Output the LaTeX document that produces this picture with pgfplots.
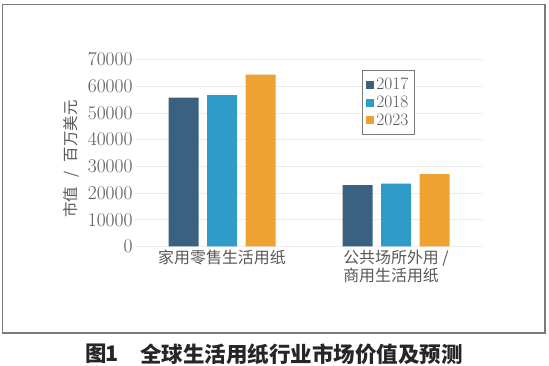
\documentclass[border=0pt]{standalone}
\usepackage{fontspec}
\usepackage{pgfplots}
\pgfplotsset{compat=1.18}
\newfontfamily\cjk{Noto Sans CJK SC}
\definecolor{c17}{HTML}{3A6280}
\definecolor{c18}{HTML}{2E9BC9}
\definecolor{c23}{HTML}{EEA232}
\definecolor{txt}{HTML}{585858}
\definecolor{frame}{HTML}{7A7A7A}
\begin{document}
\begin{tikzpicture}
\path[use as bounding box] (0,0) rectangle (549bp,366bp);
\fill[white] (0,0) rectangle (549bp,366bp);
\begin{scope}[x=1bp,y=-1bp,yshift=366bp]
\draw[color=frame, line width=1.3bp] (2.5,4.7) rectangle (545,333);
\node[font=\cjk\bfseries\fontsize{21.5}{24}\selectfont, anchor=west, inner sep=0pt, text=black!85] at (85,354) {图\kern-1pt 1};
\node[font=\cjk\bfseries\fontsize{21.6}{24}\selectfont, anchor=west, inner sep=0pt, text=black!85] at (140,354) {全球生活用纸行业市场价值及预测};
\end{scope}
\begin{axis}[
 at={(135bp,119.5bp)}, anchor=south west,
 scale only axis, width=348bp, height=187bp,
 xmin=-0.5, xmax=1.5, ymin=0, ymax=70000,
 ybar=8.5bp, bar width=30bp,
 xtick={0,1},
 xticklabels={家用零售生活用纸, {公共场所外用 /\\商用生活用纸}},
 xticklabel style={font=\cjk\fontsize{16}{17.7}\selectfont, text=txt, align=left, anchor=north},
 ytick={0,10000,...,70000},
 /pgf/number format/assume math mode=true,
 yticklabel style={font=\fontsize{19.5}{21}\selectfont, text=txt, xshift=1bp},
 /pgf/number format/1000 sep={},
 scaled y ticks=false,
 ymajorgrids, grid style={draw=gray!15, line width=0.8bp},
 axis line style={draw=none},
 major tick length=0pt,
 ylabel={市值\hspace{0.6em}/\hspace{0.6em}百万美元},
 ylabel style={font=\cjk\fontsize{15.5}{18}\selectfont, text=txt, at={(axis description cs:-0.184,0.468)}, anchor=center},
 legend style={at={(axis description cs:0.652,0.944)}, anchor=north west, draw=frame, line width=1bp, font=\fontsize{17.5}{18}\selectfont, text=txt, inner xsep=4bp, inner ysep=5.5bp, row sep=0.8bp},
 legend cell align=left,
 legend image code/.code={\fill[#1] (0bp,-4bp) rectangle (8bp,4bp);},
]
\addplot[fill=c17, draw=none] coordinates {(0,55700) (1,23000)};
\addplot[fill=c18, draw=none] coordinates {(0,56700) (1,23500)};
\addplot[fill=c23, draw=none] coordinates {(0,64300) (1,27100)};
\legend{2017,2018,2023}
\end{axis}
\end{tikzpicture}
\end{document}
